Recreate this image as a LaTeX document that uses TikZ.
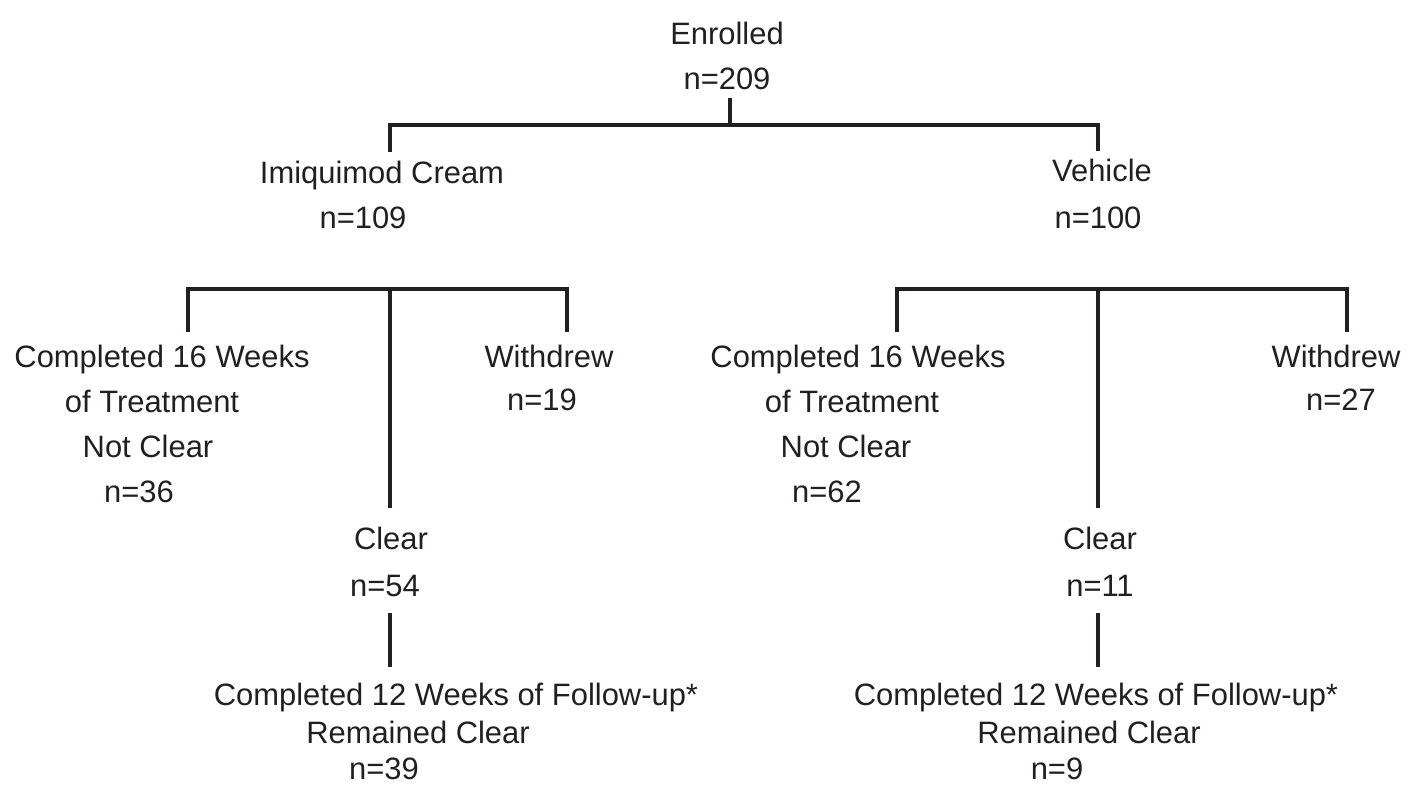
\documentclass[tikz,border=0pt]{standalone}
\usepackage{fontspec}
\setmainfont{Liberation Sans}
\usepackage{tikz}
\usetikzlibrary{positioning}
\definecolor{ink}{HTML}{231F20}

\tikzset{
	txt/.style={anchor=base, inner sep=0pt, text=ink, font=\fontsize{8.8pt}{10pt}\selectfont},
	branch/.style={draw=ink, line width=1.4pt}
}

\begin{document}
\begin{tikzpicture}
	\useasboundingbox (0,0) rectangle (14.10,-7.85);
	
	% top level
	\node[txt] (enr1) at (7.27,-0.45) {Enrolled};
	\node[txt] (enr2) at (7.27,-0.90) {n=209};
	
	\node[txt] (imq1) at (3.82,-1.83) {Imiquimod Cream};
	\node[txt] (imq2) at (3.63,-2.28) {n=109};
	\node[txt] (veh1) at (11.02,-1.82) {Vehicle};
	\node[txt] (veh2) at (10.98,-2.28) {n=100};
	
	% imiquimod arm
	\node[txt] (c16L1) at (1.62,-3.68) {Completed 16 Weeks};
	\node[txt] (c16L2) at (1.52,-4.13) {of Treatment};
	\node[txt] (c16L3) at (1.48,-4.58) {Not Clear};
	\node[txt] (c16L4) at (1.39,-5.03) {n=36};
	\node[txt] (wdL1) at (5.49,-3.67) {Withdrew};
	\node[txt] (wdL2) at (5.42,-4.10) {n=19};
	\node[txt] (clrL1) at (3.91,-5.50) {Clear};
	\node[txt] (clrL2) at (3.85,-5.97) {n=54};
	\node[txt] (fuL1) at (4.56,-7.05) {Completed 12 Weeks of Follow-up*};
	\node[txt] (fuL2) at (4.18,-7.43) {Remained Clear};
	\node[txt] (fuL3) at (3.84,-7.80) {n=39};
	
	% vehicle arm
	\node[txt] (c16R1) at (8.58,-3.68) {Completed 16 Weeks};
	\node[txt] (c16R2) at (8.52,-4.13) {of Treatment};
	\node[txt] (c16R3) at (8.46,-4.58) {Not Clear};
	\node[txt] (c16R4) at (8.27,-5.03) {n=62};
	\node[txt] (wdR1) at (13.36,-3.67) {Withdrew};
	\node[txt] (wdR2) at (13.41,-4.10) {n=27};
	\node[txt] (clrR1) at (11.00,-5.50) {Clear};
	\node[txt] (clrR2) at (11.00,-5.97) {n=11};
	\node[txt] (fuR1) at (10.96,-7.05) {Completed 12 Weeks of Follow-up*};
	\node[txt] (fuR2) at (10.89,-7.43) {Remained Clear};
	\node[txt] (fuR3) at (10.57,-7.80) {n=9};
	
	% junctions
	\coordinate (jT) at (7.30,-1.25);
	\coordinate (jT1) at (3.90,-1.25);
	\coordinate (jT2) at (10.98,-1.25);
	\coordinate (jL1) at (1.88,-2.89);
	\coordinate (jL2) at (3.90,-2.89);
	\coordinate (jL3) at (5.67,-2.89);
	\coordinate (jR1) at (8.97,-2.89);
	\coordinate (jR2) at (10.98,-2.89);
	\coordinate (jR3) at (13.47,-2.89);
	
	\draw[branch] ([yshift=-0.07cm]enr2.south -| jT) -- (jT);
	\draw[branch] ([yshift=0.08cm]imq1.north -| jT1) -- (jT1) -- (jT2) -- ([yshift=0.08cm]veh1.north -| jT2);
	
	\draw[branch] ([yshift=0.13cm]c16L1.north -| jL1) -- (jL1) -- (jL3) -- ([yshift=0.12cm]wdL1.north -| jL3);
	\draw[branch] (jL2) -- ([yshift=0.19cm]clrL1.north -| jL2);
	\draw[branch] ([yshift=-0.15cm]clrL2.south -| jL2) -- ([yshift=0.15cm]fuL1.north -| jL2);
	
	\draw[branch] ([yshift=0.13cm]c16R1.north -| jR1) -- (jR1) -- (jR3) -- ([yshift=0.12cm]wdR1.north -| jR3);
	\draw[branch] (jR2) -- ([yshift=0.19cm]clrR1.north -| jR2);
	\draw[branch] ([yshift=-0.15cm]clrR2.south -| jR2) -- ([yshift=0.15cm]fuR1.north -| jR2);
\end{tikzpicture}
\end{document}
